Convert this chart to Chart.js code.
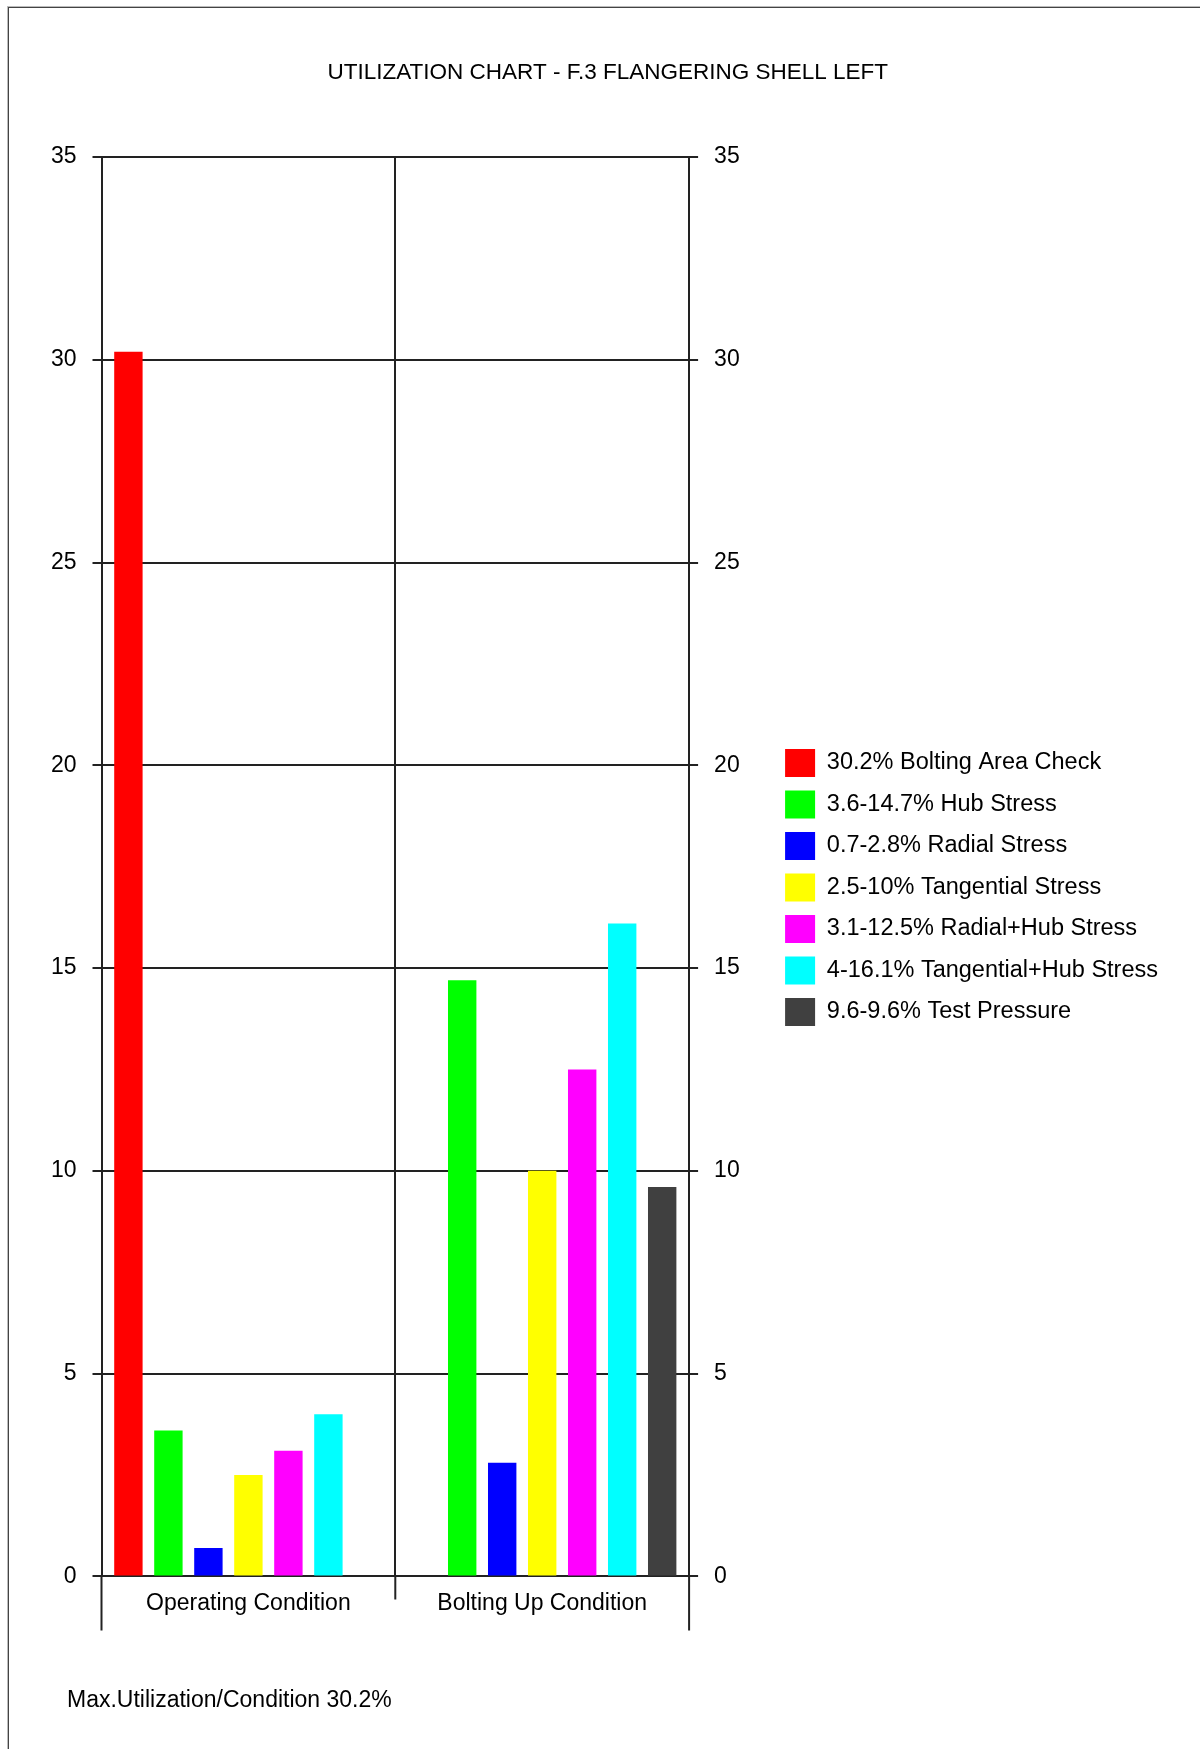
<!DOCTYPE html>
<html>
<head>
<meta charset="utf-8">
<title>Utilization Chart</title>
<script src="https://cdn.jsdelivr.net/npm/chart.js@4.4.1/dist/chart.umd.min.js"></script>
<style>
    html, body { margin: 0; padding: 0; background: #fff; overflow: hidden; }
    #frame {
        position: absolute; left: 8px; top: 7px; width: 1400px; height: 1900px;
        border-left: 1px solid #444; border-top: 1px solid #444;
        box-shadow: -1px -1px 0 #bbb;
    }
    #chart { position: absolute; left: 0; top: 0; }
</style>
</head>
<body>
<div id="frame"></div>
<canvas id="chart" width="1200" height="1749"></canvas>
<script>
const FONT = "'Liberation Sans', Arial, sans-serif";

// Dados do gráfico
const categories = ['Operating Condition', 'Bolting Up Condition'];
const seriesLabels = [
    '30.2% Bolting Area Check',
    '3.6-14.7% Hub Stress',
    '0.7-2.8% Radial Stress',
    '2.5-10% Tangential Stress',
    '3.1-12.5% Radial+Hub Stress',
    '4-16.1% Tangential+Hub Stress',
    '9.6-9.6% Test Pressure'
];
const boltingArea   = [30.2, null];
const hubStress     = [3.6, 14.7];
const radialStress  = [0.7, 2.8];
const tangStress    = [2.5, 10];
const radialHub     = [3.1, 12.5];
const tangHub       = [4, 16.1];
const testPressure  = [null, 9.6];
const seriesColors = ['#ff0000', '#00ff00', '#0000ff', '#ffff00', '#ff00ff', '#00ffff', '#404040'];
const yTicks = [0, 5, 10, 15, 20, 25, 30, 35];

const titleText = 'UTILIZATION CHART - F.3 FLANGERING SHELL LEFT';
const footerText = 'Max.Utilization/Condition 30.2%';

const lineColor = '#222';

const seriesData = [boltingArea, hubStress, radialStress, tangStress, radialHub, tangHub, testPressure];

// Linhas abaixo do eixo X e texto de rodapé
const axisExtend = {
    id: 'axisExtend',
    afterDraw(chart) {
        const { ctx, chartArea } = chart;
        const xs = chart.scales.x;
        const mid = (xs.getPixelForValue(0) + xs.getPixelForValue(1)) / 2;
        ctx.save();
        ctx.strokeStyle = lineColor;
        ctx.lineWidth = 2;
        ctx.beginPath();
        [chartArea.left, chartArea.right].forEach(x => {
            ctx.moveTo(x, chartArea.bottom);
            ctx.lineTo(x, chartArea.bottom + 54);
        });
        ctx.moveTo(mid, chartArea.bottom);
        ctx.lineTo(mid, chartArea.bottom + 23);
        ctx.stroke();

        ctx.fillStyle = '#000';
        ctx.font = '23px ' + FONT;
        ctx.textBaseline = 'middle';
        ctx.textAlign = 'left';
        ctx.fillText(footerText, 67, chartArea.bottom + 124);
        ctx.restore();
    }
};

new Chart(document.getElementById('chart'), {
    type: 'bar',
    data: {
        labels: categories,
        datasets: seriesData.map((d, i) => ({
            label: seriesLabels[i],
            data: d,
            backgroundColor: seriesColors[i],
            borderWidth: 0,
            categoryPercentage: 0.953,
            barPercentage: 0.71
        }))
    },
    options: {
        responsive: false,
        animation: false,
        layout: { padding: { left: 47.5, right: 32, top: 0, bottom: 119 } },
        plugins: {
            title: {
                display: true,
                text: titleText,
                color: '#000',
                font: { family: FONT, size: 22.5, weight: 'normal' },
                padding: { top: 59, bottom: 71 }
            },
            legend: {
                position: 'right',
                align: 'center',
                maxWidth: 430,
                title: { display: true, text: '', font: { size: 1 }, padding: { top: 0, bottom: 143.8 } },
                labels: {
                    boxWidth: 30,
                    boxHeight: 28,
                    padding: 13.5,
                    color: '#000',
                    font: { family: FONT, size: 23.5 }
                }
            },
            tooltip: { enabled: false }
        },
        scales: {
            x: {
                grid: { color: lineColor, lineWidth: 2, offset: true, drawTicks: false },
                border: { display: false },
                ticks: { color: '#000', font: { family: FONT, size: 23 }, padding: 13 }
            },
            y: {
                position: 'left',
                min: 0,
                max: 35,
                afterBuildTicks: (scale) => { scale.ticks = yTicks.map(v => ({ value: v })); },
                afterFit: (scale) => { scale.width = 54; },
                grid: { color: lineColor, lineWidth: 2, tickLength: 9 },
                border: { color: lineColor, width: 2 },
                ticks: { color: '#000', font: { family: FONT, size: 23 }, padding: 16 }
            },
            y2: {
                position: 'right',
                min: 0,
                max: 35,
                afterBuildTicks: (scale) => { scale.ticks = yTicks.map(v => ({ value: v })); },
                afterFit: (scale) => { scale.width = 82.5; },
                grid: { drawOnChartArea: false, color: lineColor, lineWidth: 2, tickLength: 9 },
                border: { color: lineColor, width: 2 },
                ticks: { color: '#000', font: { family: FONT, size: 23 }, padding: 16 }
            }
        }
    },
    plugins: [axisExtend]
});
</script>
</body>
</html>
